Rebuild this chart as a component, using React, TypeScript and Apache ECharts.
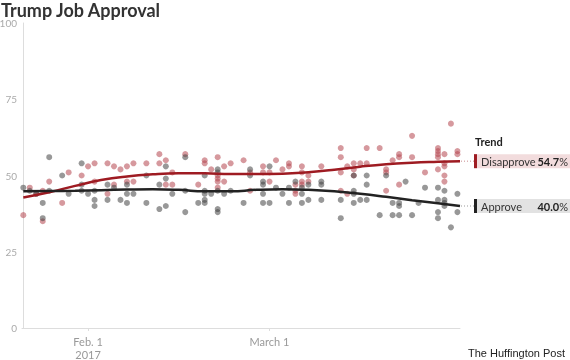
import React, { useEffect, useRef } from "react";
import * as echarts from "echarts";

// Day index 0 = Jan 22, 2017
const xTickDays = [10, 38];
const xTickLabels = ["Feb. 1\n2017", "March 1"];
const yTicks = [0, 25, 50, 75, 100];

const disapprovePolls: [number, number][] = [
  [0, 37], [1, 46], [2, 44], [3, 45], [3, 35], [4, 48], [6, 41], [7, 51], [9, 50],
  [10, 53], [11, 54], [11, 48], [13, 54], [13, 44], [14, 53], [14, 47], [15, 52],
  [16, 53], [16, 48], [17, 48], [17, 54], [19, 54], [21, 57], [21, 54], [22, 55], [22, 47],
  [23, 51], [23, 47], [25, 57], [27, 47], [28, 55], [28, 54], [29, 52], [30, 56],
  [30, 50], [30, 49], [30, 48], [30, 46], [31, 53], [31, 48], [32, 54], [34, 55],
  [35, 51], [35, 45], [37, 53], [37, 51], [38, 51], [38, 48], [39, 55], [40, 52],
  [41, 54], [41, 53], [42, 47], [42, 45], [42, 44], [43, 53], [43, 51], [43, 48],
  [43, 47], [44, 50], [44, 48], [46, 53], [49, 59], [49, 56], [49, 51], [49, 45],
  [50, 53], [50, 44], [51, 54], [51, 52], [51, 50], [52, 54], [53, 59], [53, 54],
  [55, 59], [56, 52], [56, 51], [56, 45], [57, 55], [58, 57], [58, 56], [58, 47],
  [60, 56], [60, 63], [62, 51], [64, 59], [64, 58], [64, 57], [64, 56], [64, 52],
  [65, 57], [65, 54], [65, 53], [65, 50], [65, 48], [66, 67], [67, 58], [67, 57],
];

const approvePolls: [number, number][] = [
  [0, 46], [1, 45], [2, 44], [3, 41], [3, 36], [4, 56], [4, 45], [6, 50], [7, 44],
  [9, 54], [9, 47], [9, 45], [10, 44], [11, 45], [11, 42], [11, 40], [13, 47], [13, 42],
  [14, 46], [15, 42], [16, 44], [16, 41], [16, 47], [17, 44], [19, 50], [19, 41],
  [21, 47], [21, 39], [22, 53], [22, 49], [22, 40], [23, 44], [25, 56], [25, 45], [25, 38],
  [27, 41], [28, 50], [28, 45], [28, 44], [28, 42], [28, 41], [29, 44], [30, 52],
  [30, 51], [30, 45], [30, 39], [30, 38], [31, 44], [32, 45], [34, 41], [35, 52],
  [35, 50], [37, 48], [37, 47], [37, 44], [37, 41], [38, 53], [38, 41], [39, 46],
  [40, 44], [41, 46], [41, 41], [42, 48], [43, 46], [43, 44], [43, 41], [44, 47],
  [44, 42], [46, 48], [46, 47], [46, 42], [49, 42], [49, 36], [51, 50], [51, 45],
  [51, 44], [51, 41], [52, 42], [53, 50], [53, 47], [53, 42], [55, 37], [56, 50],
  [57, 41], [57, 37], [58, 41], [58, 40], [58, 37], [59, 48], [60, 37], [61, 41],
  [62, 46], [64, 46], [64, 42], [64, 38], [64, 36], [65, 45], [65, 42], [65, 41],
  [65, 40], [66, 33], [67, 44], [67, 38],
];

const trendDays = [0, 4, 8, 12, 16, 20, 24, 28, 32, 36, 40, 44, 48, 52, 56, 60, 64, 67.4];
const disapproveTrend = [42.8, 44.5, 46.6, 48.5, 49.7, 50.4, 50.7, 50.7, 50.5, 50.5, 50.6, 51.1, 51.9, 52.9, 53.7, 54.2, 54.5, 54.7];
const approveTrend = [44.8, 44.9, 45.0, 45.2, 45.4, 45.5, 45.3, 44.8, 44.8, 45.3, 45.5, 45.3, 44.8, 44.0, 43.0, 41.9, 40.9, 40.0];

const latestDisapprove = 54.7;
const latestApprove = 40.0;

const FONT = "Lato, 'Noto Sans', sans-serif";

export default function App() {
  const ref = useRef<HTMLDivElement>(null);

  useEffect(() => {
    if (!ref.current) return;
    const chart = echarts.init(ref.current, undefined, { renderer: "svg" });
    const lastDay = trendDays[trendDays.length - 1];
    chart.setOption({
      animation: false,
      title: {
        text: "Trump Job Approval",
        left: 1,
        top: 1,
        padding: 0,
        textStyle: { fontFamily: FONT, fontWeight: "bold", fontSize: 18, color: "#333", lineHeight: 18 },
      },
      grid: { left: 22, right: 110, top: 23, bottom: 32, containLabel: false, outerBoundsMode: "none" },
      xAxis: {
        type: "value",
        min: -0.2,
        max: lastDay,
        splitLine: { show: false },
        axisLine: { show: true, lineStyle: { color: "#ddd" } },
        axisTick: { show: true, customValues: xTickDays, length: 3, lineStyle: { color: "#ddd" } },
        axisLabel: {
          customValues: xTickDays,
          formatter: (v: number) => {
            const i = xTickDays.indexOf(Math.round(v));
            return i >= 0 ? xTickLabels[i] : "";
          },
          color: "#999",
          fontFamily: FONT,
          fontSize: 11,
          lineHeight: 13,
          margin: 7,
        },
      },
      yAxis: {
        type: "value",
        min: yTicks[0],
        max: yTicks[yTicks.length - 1],
        interval: 25,
        splitLine: { show: false },
        axisTick: { show: false },
        axisLine: { show: true, lineStyle: { color: "#ddd" } },
        axisLabel: { color: "#aaa", fontFamily: FONT, fontSize: 10, margin: 5 },
      },
      series: [
        {
          type: "scatter",
          data: disapprovePolls,
          symbolSize: 6,
          itemStyle: { color: "#b5464f", opacity: 0.55 },
          z: 2,
        },
        {
          type: "scatter",
          data: approvePolls,
          symbolSize: 6,
          itemStyle: { color: "#444", opacity: 0.55 },
          z: 2,
        },
        {
          type: "line",
          data: trendDays.map((d, i) => [d, disapproveTrend[i]]),
          smooth: true,
          symbol: "none",
          lineStyle: { color: "#9e1b22", width: 2.5 },
          z: 5,
        },
        {
          type: "line",
          data: trendDays.map((d, i) => [d, approveTrend[i]]),
          smooth: true,
          symbol: "none",
          lineStyle: { color: "#222", width: 2.5 },
          z: 5,
        },
      ],
    });

    const [xe, yd] = chart.convertToPixel({ gridIndex: 0 }, [lastDay, latestDisapprove]) as number[];
    const [, ya] = chart.convertToPixel({ gridIndex: 0 }, [lastDay, latestApprove]) as number[];
    const bx = xe + 14;
    const bw = 570 - bx;
    const mk = (y: number, name: string, val: number, bg: string, bar: string, dot: string) => [
      { type: "line", shape: { x1: xe + 1, y1: y, x2: bx, y2: y }, style: { stroke: dot, lineWidth: 1, lineDash: [1, 2] } },
      { type: "rect", shape: { x: bx, y: y - 7, width: bw, height: 14 }, style: { fill: bg } },
      { type: "rect", shape: { x: bx, y: y - 7, width: 3, height: 14 }, style: { fill: bar } },
      {
        type: "text",
        x: bx + 7,
        y: y,
        style: { text: name, fill: "#333", font: `11px ${FONT}`, verticalAlign: "middle", align: "left" },
      },
      {
        type: "text",
        x: 568,
        y: y,
        style: {
          text: `{b|${val.toFixed(1)}}{p|%}`,
          align: "right",
          verticalAlign: "middle",
          rich: {
            b: { fontFamily: FONT, fontSize: 11, fontWeight: "bold", fill: "#222" },
            p: { fontFamily: FONT, fontSize: 11, fill: "#333" },
          },
        },
      },
    ];
    chart.setOption({
      graphic: [
        {
          type: "text",
          x: bx + 1,
          y: yd - 20,
          style: { text: "Trend", fill: "#222", font: `bold 11px ${FONT}`, verticalAlign: "middle" },
        },
        ...mk(yd, "Disapprove", latestDisapprove, "#f2dcdd", "#9e1b22", "#c98a8e"),
        ...mk(ya, "Approve", latestApprove, "#e2e2e2", "#222", "#999"),
        {
          type: "text",
          right: 5,
          bottom: 2,
          style: { text: "The Huffington Post", fill: "#222", font: "11px 'Liberation Sans', Arial, sans-serif" },
        },
      ],
    });

    return () => chart.dispose();
  }, []);

  return <div ref={ref} style={{ position: "fixed", left: 0, top: 0, width: 570, height: 360 }} />;
}
